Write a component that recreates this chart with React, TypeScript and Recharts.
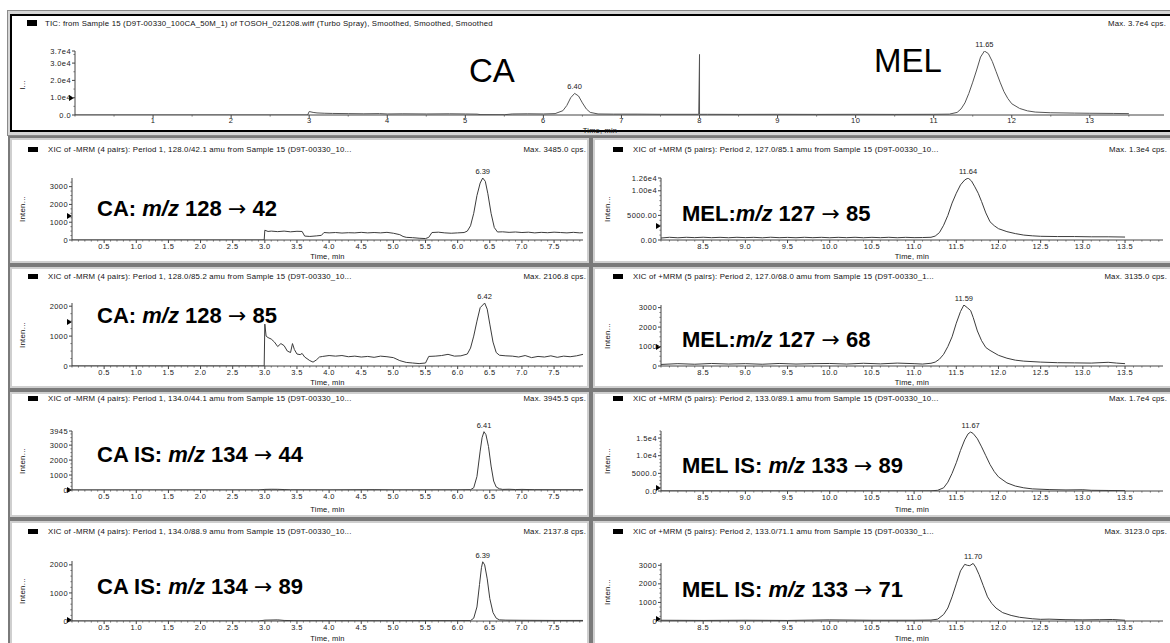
import React from 'react';
import { LineChart, Line, XAxis, YAxis, ReferenceDot } from 'recharts';

const FONT = '"Liberation Sans", Arial, Helvetica, sans-serif';

// ---------- DATA (time in min, intensity in cps) ----------
const ticTrace: [number, number][] = [
  [0, 0], [2.98, 0], [3.0, 2000], [3.05, 1500], [3.1, 1200], [3.2, 1000], [3.3, 900], [3.5, 800], [3.7, 700],
  [3.9, 800], [4.0, 600], [4.2, 700], [4.5, 600], [4.8, 700], [5.0, 600], [5.15, 500], [5.2, 200], [5.5, 150],
  [5.6, 600], [5.8, 700], [6.0, 600], [6.15, 800], [6.25, 2500], [6.3, 5500], [6.35, 10000], [6.4, 12500],
  [6.45, 11000], [6.5, 7000], [6.55, 3500], [6.6, 1500], [6.7, 600], [6.9, 500], [7.2, 500], [7.5, 400],
  [7.99, 400], [8.0, 35000], [8.0, 400], [8.1, 400], [8.5, 350], [9.0, 400], [9.5, 350], [10.0, 400],
  [10.5, 350], [11.0, 400], [11.2, 500], [11.3, 1500], [11.35, 3500], [11.4, 7000], [11.45, 12500],
  [11.5, 19000], [11.55, 26000], [11.6, 33500], [11.65, 37000], [11.7, 35500], [11.75, 31000], [11.8, 25000],
  [11.85, 19000], [11.9, 13500], [11.95, 9500], [12.0, 6500], [12.1, 3800], [12.2, 2400], [12.3, 1700],
  [12.5, 1300], [12.8, 1100], [13.0, 1000], [13.3, 900], [13.5, 800],
];

const ca128to42: [number, number][] = [
  [0, 0], [2.99, 0], [3.0, 550], [3.05, 480], [3.1, 500], [3.2, 470], [3.3, 500], [3.4, 460], [3.5, 490],
  [3.58, 480], [3.62, 220], [3.7, 200], [3.8, 230], [3.88, 260], [3.92, 420], [4.0, 400], [4.1, 420],
  [4.2, 390], [4.3, 410], [4.4, 400], [4.5, 430], [4.6, 400], [4.7, 420], [4.8, 400], [4.9, 430], [5.0, 380],
  [5.1, 300], [5.15, 200], [5.2, 150], [5.3, 130], [5.4, 100], [5.5, 80], [5.55, 150], [5.6, 420], [5.7, 440],
  [5.8, 400], [5.9, 380], [6.0, 400], [6.1, 420], [6.15, 500], [6.2, 800], [6.25, 1500], [6.3, 2500],
  [6.35, 3200], [6.39, 3485], [6.43, 3300], [6.47, 2600], [6.52, 1500], [6.57, 700], [6.62, 450], [6.7, 460],
  [6.8, 430], [6.9, 450], [7.0, 420], [7.1, 440], [7.2, 400], [7.3, 430], [7.4, 410], [7.5, 440], [7.6, 420],
  [7.7, 400], [7.8, 430], [7.9, 400], [7.95, 410],
];

const ca128to85: [number, number][] = [
  [0, 0], [2.99, 0], [3.0, 1400], [3.02, 1000], [3.05, 950], [3.1, 900], [3.15, 800], [3.2, 650], [3.25, 750],
  [3.3, 680], [3.35, 500], [3.4, 450], [3.43, 750], [3.46, 550], [3.5, 400], [3.55, 380], [3.58, 420],
  [3.62, 300], [3.7, 180], [3.75, 130], [3.8, 200], [3.85, 300], [3.9, 320], [4.0, 350], [4.1, 330],
  [4.2, 350], [4.3, 310], [4.4, 330], [4.5, 300], [4.6, 320], [4.7, 290], [4.8, 330], [4.9, 310], [5.0, 280],
  [5.1, 180], [5.2, 120], [5.3, 100], [5.4, 80], [5.5, 100], [5.55, 320], [5.65, 330], [5.75, 350],
  [5.85, 390], [5.95, 330], [6.05, 340], [6.15, 400], [6.2, 600], [6.25, 1000], [6.3, 1500], [6.35, 1950],
  [6.42, 2106], [6.46, 1900], [6.5, 1400], [6.55, 800], [6.6, 450], [6.65, 360], [6.75, 340], [6.85, 330],
  [6.95, 300], [7.05, 350], [7.15, 280], [7.25, 320], [7.35, 300], [7.45, 340], [7.55, 290], [7.65, 330],
  [7.75, 310], [7.85, 340], [7.95, 390],
];

const caIs134to44: [number, number][] = [
  [0, 0], [2.9, 0], [3.0, 40], [3.1, 50], [3.2, 45], [3.3, 30], [3.4, 10], [4.0, 5], [4.7, 20], [5.0, 5],
  [6.0, 10], [6.2, 20], [6.25, 150], [6.3, 900], [6.35, 2600], [6.38, 3500], [6.41, 3900], [6.44, 3700],
  [6.48, 2900], [6.52, 1600], [6.56, 600], [6.6, 200], [6.65, 80], [6.7, 40], [6.8, 50], [6.9, 30], [7.0, 40],
  [7.2, 20], [7.5, 15], [7.95, 15],
];

const caIs134to89: [number, number][] = [
  [0, 0], [2.9, 0], [3.0, 30], [3.2, 40], [3.3, 20], [3.5, 10], [4.0, 10], [5.0, 10], [6.2, 15], [6.25, 100],
  [6.3, 500], [6.34, 1300], [6.37, 1900], [6.39, 2110], [6.42, 2000], [6.46, 1500], [6.5, 800], [6.55, 300],
  [6.6, 100], [6.65, 40], [6.75, 30], [7.0, 25], [7.5, 20], [7.95, 20],
];

const mel127to85: [number, number][] = [
  [8.0, 400], [8.1, 550], [8.2, 450], [8.3, 550], [8.4, 480], [8.5, 560], [8.6, 470], [8.7, 540], [8.8, 460],
  [8.9, 550], [9.0, 480], [9.1, 540], [9.2, 450], [9.3, 560], [9.4, 470], [9.5, 530], [9.6, 460], [9.7, 550],
  [9.8, 470], [9.9, 540], [10.0, 460], [10.1, 540], [10.2, 470], [10.3, 550], [10.4, 460], [10.5, 540],
  [10.6, 470], [10.7, 550], [10.8, 460], [10.9, 540], [11.0, 480], [11.1, 500], [11.2, 550], [11.25, 800],
  [11.3, 1500], [11.35, 3000], [11.4, 5000], [11.45, 7500], [11.5, 9500], [11.55, 11200], [11.6, 12200],
  [11.64, 12600], [11.68, 12000], [11.72, 10800], [11.76, 9500], [11.8, 7800], [11.85, 5500], [11.9, 3700],
  [11.95, 2900], [12.0, 2300], [12.1, 1700], [12.2, 1300], [12.3, 1000], [12.4, 850], [12.5, 750],
  [12.7, 700], [12.9, 700], [13.1, 650], [13.3, 650], [13.5, 600],
];

const mel127to68: [number, number][] = [
  [8.0, 80], [8.2, 120], [8.4, 90], [8.6, 130], [8.8, 100], [9.0, 120], [9.2, 90], [9.4, 130], [9.6, 100],
  [9.8, 120], [10.0, 130], [10.2, 100], [10.4, 140], [10.6, 110], [10.8, 150], [11.0, 120], [11.1, 100],
  [11.2, 140], [11.25, 200], [11.3, 350], [11.35, 600], [11.4, 1000], [11.45, 1500], [11.5, 2200],
  [11.55, 2800], [11.59, 3135], [11.63, 3000], [11.67, 2850], [11.7, 2500], [11.75, 1800], [11.8, 1300],
  [11.85, 950], [11.9, 800], [12.0, 550], [12.1, 400], [12.2, 300], [12.3, 250], [12.5, 200], [12.7, 170],
  [12.9, 160], [13.1, 150], [13.3, 190], [13.4, 150], [13.5, 120],
];

const melIs133to89: [number, number][] = [
  [8.0, 30], [8.5, 20], [9.0, 25], [9.5, 20], [10.0, 25], [10.5, 20], [11.0, 30], [11.2, 40], [11.28, 200],
  [11.35, 900], [11.4, 2500], [11.45, 5000], [11.5, 8000], [11.55, 11500], [11.6, 14500], [11.64, 16200],
  [11.67, 16700], [11.7, 16300], [11.75, 14800], [11.8, 12500], [11.85, 10000], [11.9, 7500], [11.95, 5500],
  [12.0, 4000], [12.1, 2300], [12.2, 1400], [12.3, 900], [12.4, 600], [12.6, 400], [12.8, 300], [13.0, 350],
  [13.1, 200], [13.3, 150], [13.5, 100],
];

const melIs133to71: [number, number][] = [
  [8.0, 40], [8.5, 30], [9.0, 40], [9.5, 30], [10.0, 60], [10.5, 40], [11.0, 40], [11.2, 50], [11.28, 100],
  [11.35, 350], [11.4, 700], [11.45, 1300], [11.5, 2000], [11.55, 2700], [11.6, 3050], [11.63, 3000],
  [11.66, 2980], [11.7, 3100], [11.73, 2900], [11.77, 2500], [11.82, 1900], [11.87, 1300], [11.92, 950],
  [11.97, 700], [12.05, 450], [12.15, 300], [12.25, 200], [12.4, 120], [12.5, 90], [12.6, 100], [12.8, 70],
  [13.0, 60], [13.2, 70], [13.35, 80], [13.5, 40],
];

// ---------- TICKS ----------
const ticXTicks = [1, 2, 3, 4, 5, 6, 7, 8, 9, 10, 11, 12, 13];
const ticXLabels = ['1', '2', '3', '4', '5', '6', '7', '8', '9', '10', '11', '12', '13'];
const leftXTicks = [0.5, 1.0, 1.5, 2.0, 2.5, 3.0, 3.5, 4.0, 4.5, 5.0, 5.5, 6.0, 6.5, 7.0, 7.5];
const leftXLabels = ['0.5', '1.0', '1.5', '2.0', '2.5', '3.0', '3.5', '4.0', '4.5', '5.0', '5.5', '6.0', '6.5', '7.0', '7.5'];
const rightXTicks = [8.5, 9.0, 9.5, 10.0, 10.5, 11.0, 11.5, 12.0, 12.5, 13.0, 13.5];
const rightXLabels = ['8.5', '9.0', '9.5', '10.0', '10.5', '11.0', '11.5', '12.0', '12.5', '13.0', '13.5'];

const ticYTicks = [0, 10000, 20000, 30000, 37000];
const ticYLabels = ['0.0', '1.0e4', '2.0e4', '3.0e4', '3.7e4'];
const y3000Ticks = [0, 1000, 2000, 3000];
const y3000Labels = ['0', '1000', '2000', '3000'];
const y2000Ticks = [0, 1000, 2000];
const y2000Labels = ['0', '1000', '2000'];
const y3945Ticks = [0, 1000, 2000, 3000, 3945];
const y3945Labels = ['0', '1000', '2000', '3000', '3945'];
const yMel85Ticks = [0, 5000, 10000, 12600];
const yMel85Labels = ['0.00', '5000.00', '1.00e4', '1.26e4'];
const yMelIs89Ticks = [0, 5000, 10000, 15000];
const yMelIs89Labels = ['0.0', '5000.0', '1.0e4', '1.5e4'];

// ---------- RENDER HELPERS ----------
const near = (a: number, b: number) => Math.abs(a - b) < 1e-6;

const makeXTick = (majors: number[], labels: string[], dy: number) => (props: any) => {
  const { x, y, payload } = props;
  const i = majors.findIndex((m) => near(m, payload.value));
  if (i < 0) {
    return <line x1={x} x2={x} y1={y} y2={y + 1.5} stroke="#666" strokeWidth={1} />;
  }
  return (
    <g>
      <line x1={x} x2={x} y1={y} y2={y + 3} stroke="#444" strokeWidth={1} />
      <text x={x} y={y + dy} textAnchor="middle" fontSize={7.5} fontFamily={FONT} fill="#222" letterSpacing={0.4}>
        {labels[i]}
      </text>
    </g>
  );
};

const makeYTick = (majors: number[], labels: string[]) => (props: any) => {
  const { x, y, payload } = props;
  const i = majors.findIndex((m) => near(m, payload.value));
  if (i < 0) {
    return <line x1={x - 1.5} x2={x} y1={y} y2={y} stroke="#666" strokeWidth={1} />;
  }
  return (
    <g>
      <line x1={x - 3} x2={x} y1={y} y2={y} stroke="#444" strokeWidth={1} />
      <text x={x - 4} y={y} dy="0.35em" textAnchor="end" fontSize={7.5} fontFamily={FONT} fill="#222" letterSpacing={0.4}>
        {labels[i]}
      </text>
    </g>
  );
};

const stepTicks = (lo: number, hi: number, step: number) => {
  const out: number[] = [];
  for (let k = Math.ceil(lo / step - 1e-9); k * step <= hi + 1e-9; k++) out.push(Math.round(k * step * 1000) / 1000);
  return out;
};

type Peak = { t: number; v: number; label: string };
type Spec = {
  trace: [number, number][];
  rect: { x0: number; x1: number; y0: number; y1: number };
  xDomain: [number, number];
  xMajor: number[];
  xLabels: string[];
  xMinorStep: number;
  xLabelDy: number;
  yDomain: [number, number];
  yMajor: number[];
  yLabels: string[];
  yMinorStep: number;
  peaks: Peak[];
  stroke?: string;
};

function Trace({ s }: { s: Spec }) {
  const padL = 50, padT = 16, padR = 10, padB = 20;
  const { x0, x1, y0, y1 } = s.rect;
  const w = x1 - x0 + padL + padR;
  const h = y1 - y0 + padT + padB;
  const data = s.trace.map(([t, v]) => ({ t, v }));
  const xt = Array.from(new Set([...stepTicks(s.xDomain[0], s.xDomain[1], s.xMinorStep), ...s.xMajor])).sort((a, b) => a - b);
  const yt = Array.from(new Set([...stepTicks(s.yDomain[0], s.yDomain[1], s.yMinorStep), ...s.yMajor])).sort((a, b) => a - b);
  return (
    <div style={{ position: 'absolute', left: x0 - padL, top: y0 - padT }}>
      <LineChart width={w} height={h} data={data} margin={{ top: padT, right: padR, left: 0, bottom: 0 }}>
        <XAxis
          type="number"
          dataKey="t"
          domain={s.xDomain}
          allowDataOverflow
          ticks={xt}
          interval={0}
          tickSize={0}
          tickMargin={0}
          tickLine={false}
          axisLine={{ stroke: '#444', strokeWidth: 1 }}
          tick={makeXTick(s.xMajor, s.xLabels, s.xLabelDy)}
          height={padB}
        />
        <YAxis
          type="number"
          domain={s.yDomain}
          allowDataOverflow
          ticks={yt}
          interval={0}
          tickSize={0}
          tickMargin={0}
          tickLine={false}
          axisLine={{ stroke: '#444', strokeWidth: 1 }}
          tick={makeYTick(s.yMajor, s.yLabels)}
          width={padL}
        />
        <Line
          type="linear"
          dataKey="v"
          stroke={s.stroke || '#3c3c3c'}
          strokeWidth={1}
          dot={false}
          isAnimationActive={false}
        />
        {s.peaks.map((p) => (
          <ReferenceDot
            key={p.label}
            x={p.t}
            y={p.v}
            r={1}
            fill="none"
            stroke="none"
            ifOverflow="visible"
            label={{ value: p.label, position: 'top', offset: 3, fontSize: 7.5, fill: '#222', fontFamily: FONT }}
          />
        ))}
      </LineChart>
    </div>
  );
}

// ---------- PANEL SPECS ----------
const L = { x0: 72, x1: 583 };
const R = { x0: 661, x1: 1163 };

const specs: Spec[] = [
  {
    trace: ticTrace, rect: { x0: 75, x1: 1164, y0: 51, y1: 115 }, xDomain: [0, 13.95],
    xMajor: ticXTicks, xLabels: ticXLabels, xMinorStep: 0.5, xLabelDy: 8,
    yDomain: [0, 37000], yMajor: ticYTicks, yLabels: ticYLabels, yMinorStep: 5000,
    peaks: [{ t: 6.40, v: 12500, label: '6.40' }, { t: 11.65, v: 37000, label: '11.65' }],
    stroke: '#555',
  },
  {
    trace: ca128to42, rect: { ...L, y0: 178, y1: 240 }, xDomain: [0, 7.95],
    xMajor: leftXTicks, xLabels: leftXLabels, xMinorStep: 0.1, xLabelDy: 9,
    yDomain: [0, 3485], yMajor: y3000Ticks, yLabels: y3000Labels, yMinorStep: 250,
    peaks: [{ t: 6.39, v: 3485, label: '6.39' }],
  },
  {
    trace: ca128to85, rect: { ...L, y0: 303, y1: 366 }, xDomain: [0, 7.95],
    xMajor: leftXTicks, xLabels: leftXLabels, xMinorStep: 0.1, xLabelDy: 9,
    yDomain: [0, 2106.8], yMajor: y2000Ticks, yLabels: y2000Labels, yMinorStep: 250,
    peaks: [{ t: 6.42, v: 2106, label: '6.42' }],
  },
  {
    trace: caIs134to44, rect: { ...L, y0: 431, y1: 490 }, xDomain: [0, 7.95],
    xMajor: leftXTicks, xLabels: leftXLabels, xMinorStep: 0.1, xLabelDy: 9,
    yDomain: [0, 3945.5], yMajor: y3945Ticks, yLabels: y3945Labels, yMinorStep: 250,
    peaks: [{ t: 6.41, v: 3900, label: '6.41' }],
  },
  {
    trace: caIs134to89, rect: { ...L, y0: 561, y1: 621 }, xDomain: [0, 7.95],
    xMajor: leftXTicks, xLabels: leftXLabels, xMinorStep: 0.1, xLabelDy: 9,
    yDomain: [0, 2137.8], yMajor: y2000Ticks, yLabels: y2000Labels, yMinorStep: 200,
    peaks: [{ t: 6.39, v: 2110, label: '6.39' }],
  },
  {
    trace: mel127to85, rect: { ...R, y0: 178, y1: 240 }, xDomain: [8.0, 13.95],
    xMajor: rightXTicks, xLabels: rightXLabels, xMinorStep: 0.1, xLabelDy: 9,
    yDomain: [0, 12600], yMajor: yMel85Ticks, yLabels: yMel85Labels, yMinorStep: 1000,
    peaks: [{ t: 11.64, v: 12600, label: '11.64' }],
  },
  {
    trace: mel127to68, rect: { ...R, y0: 305, y1: 366 }, xDomain: [8.0, 13.95],
    xMajor: rightXTicks, xLabels: rightXLabels, xMinorStep: 0.1, xLabelDy: 9,
    yDomain: [0, 3135], yMajor: y3000Ticks, yLabels: y3000Labels, yMinorStep: 250,
    peaks: [{ t: 11.59, v: 3135, label: '11.59' }],
  },
  {
    trace: melIs133to89, rect: { ...R, y0: 431, y1: 491 }, xDomain: [8.0, 13.95],
    xMajor: rightXTicks, xLabels: rightXLabels, xMinorStep: 0.1, xLabelDy: 9,
    yDomain: [0, 17000], yMajor: yMelIs89Ticks, yLabels: yMelIs89Labels, yMinorStep: 1000,
    peaks: [{ t: 11.67, v: 16700, label: '11.67' }],
  },
  {
    trace: melIs133to71, rect: { ...R, y0: 563, y1: 621 }, xDomain: [8.0, 13.95],
    xMajor: rightXTicks, xLabels: rightXLabels, xMinorStep: 0.1, xLabelDy: 9,
    yDomain: [0, 3123], yMajor: y3000Ticks, yLabels: y3000Labels, yMinorStep: 250,
    peaks: [{ t: 11.7, v: 3100, label: '11.70' }],
  },
];

// ---------- TEXT ----------
const ticTitle = 'TIC: from Sample 15 (D9T-00330_100CA_50M_1) of TOSOH_021208.wiff (Turbo Spray), Smoothed, Smoothed, Smoothed';
const ticMax = 'Max. 3.7e4 cps.';
const panelTitles = [
  'XIC of -MRM (4 pairs): Period 1, 128.0/42.1 amu from Sample 15 (D9T-00330_10...',
  'XIC of -MRM (4 pairs): Period 1, 128.0/85.2 amu from Sample 15 (D9T-00330_10...',
  'XIC of -MRM (4 pairs): Period 1, 134.0/44.1 amu from Sample 15 (D9T-00330_10...',
  'XIC of -MRM (4 pairs): Period 1, 134.0/88.9 amu from Sample 15 (D9T-00330_10...',
  'XIC of +MRM (5 pairs): Period 2, 127.0/85.1 amu from Sample 15 (D9T-00330_10...',
  'XIC of +MRM (5 pairs): Period 2, 127.0/68.0 amu from Sample 15 (D9T-00330_1...',
  'XIC of +MRM (5 pairs): Period 2, 133.0/89.1 amu from Sample 15 (D9T-00330_10...',
  'XIC of +MRM (5 pairs): Period 2, 133.0/71.1 amu from Sample 15 (D9T-00330_1...',
];
const panelMax = [
  'Max. 3485.0 cps.', 'Max. 2106.8 cps.', 'Max. 3945.5 cps.', 'Max. 2137.8 cps.',
  'Max. 1.3e4 cps.', 'Max. 3135.0 cps.', 'Max. 1.7e4 cps.', 'Max. 3123.0 cps.',
];
const annotations = [
  { pre: 'CA: ', a: 128, b: 42 }, { pre: 'CA: ', a: 128, b: 85 },
  { pre: 'CA IS: ', a: 134, b: 44 }, { pre: 'CA IS: ', a: 134, b: 89 },
  { pre: 'MEL:', a: 127, b: 85 }, { pre: 'MEL:', a: 127, b: 68 },
  { pre: 'MEL IS: ', a: 133, b: 89 }, { pre: 'MEL IS: ', a: 133, b: 71 },
];

// ---------- LAYOUT ----------
const rowBoxes = [
  { top: 136, h: 129 }, { top: 265, h: 125 }, { top: 390, h: 129 }, { top: 519, h: 130 },
];
const colBoxes = [{ left: 8, w: 583 }, { left: 591, w: 585 }];
const titleY = [150, 277, 399, 532];
const annY = [209, 316, 455, 587, 214, 340, 466, 590];
const timeY = [257, 383, 510, 639];
const markerY = [216, 322, 490, 620, 226, 347, 488, 619];

const abs = (o: React.CSSProperties): React.CSSProperties => ({ position: 'absolute', ...o });
const small: React.CSSProperties = { fontFamily: FONT, fontSize: 7.8, color: '#111', whiteSpace: 'nowrap', lineHeight: '10px', letterSpacing: 0.2 };

function Marker({ x, y }: { x: number; y: number }) {
  return (
    <div style={abs({ left: x - 5, top: y - 3.5, width: 0, height: 0, borderTop: '3.5px solid transparent', borderBottom: '3.5px solid transparent', borderLeft: '5px solid #000' })} />
  );
}

export default function App() {
  return (
    <div style={abs({ left: 0, top: 0, width: 1170, height: 643, overflow: 'hidden', background: '#fff' })}>
      {/* outer frames */}
      <div style={abs({ left: 7, top: 10, width: 1170, height: 126, boxSizing: 'border-box', border: '1px solid #8a8a8a', background: '#d6d6d6' })} />
      <div style={abs({ left: 10, top: 14, width: 1170, height: 118, boxSizing: 'border-box', border: '2px solid #000', background: '#fff' })} />
      {rowBoxes.map((r, ri) =>
        colBoxes.map((c, ci) => (
          <div
            key={`f${ri}${ci}`}
            style={abs({
              left: c.left, top: r.top, width: c.w, height: r.h, boxSizing: 'border-box',
              border: '2px solid #7a7a7a', boxShadow: 'inset 0 0 0 2px #cfcfcf', background: '#fff',
            })}
          />
        ))
      )}

      {/* TIC header */}
      <div style={abs({ left: 27, top: 20, width: 10, height: 6, background: '#000' })} />
      <div style={abs({ ...small, left: 45, top: 19 })}>{ticTitle}</div>
      <div style={abs({ ...small, left: 990, top: 19, width: 176, textAlign: 'right' })}>{ticMax}</div>
      <div style={abs({ ...small, left: 18, top: 80, transform: 'rotate(-90deg)', fontSize: 8 })}>I...</div>
      <div style={abs({ ...small, left: 570, top: 126, width: 60, textAlign: 'center', fontSize: 7.5 })}>Time, min</div>
      <div style={abs({ left: 469, top: 51, fontFamily: FONT, fontSize: 33, lineHeight: '40px', color: '#000' })}>CA</div>
      <div style={abs({ left: 874, top: 41, fontFamily: FONT, fontSize: 33, lineHeight: '40px', color: '#000' })}>MEL</div>
      <Marker x={74} y={98} />

      {/* sub-panel headers & labels */}
      {panelTitles.map((t, i) => {
        const col = i < 4 ? 0 : 1;
        const row = i % 4;
        const baseX = col === 0 ? 0 : 585;
        const plot = col === 0 ? L : R;
        const sp = specs[i + 1].rect;
        const an = annotations[i];
        const maxRight = col === 0 ? 586 : 1167;
        return (
          <React.Fragment key={`p${i}`}>
            <div style={abs({ left: baseX + 28, top: titleY[row] - 3, width: 10, height: 5, background: '#000' })} />
            <div style={abs({ ...small, left: baseX + 48, top: titleY[row] - 5 })}>{t}</div>
            <div style={abs({ ...small, left: maxRight - 187, top: titleY[row] - 5, width: 187, textAlign: 'right' })}>{panelMax[i]}</div>
            <div style={abs({ ...small, left: baseX + 8, top: (sp.y0 + sp.y1) / 2 - 5, width: 30, textAlign: 'center', transform: 'rotate(-90deg)', fontSize: 8 })}>Inten...</div>
            <div style={abs({ ...small, left: (plot.x0 + plot.x1) / 2 - 30, top: timeY[row] - 5, width: 60, textAlign: 'center', fontSize: 7.5 })}>Time, min</div>
            <div style={abs({ left: baseX + 97, top: annY[i] - 13, fontFamily: FONT, fontSize: 22, fontWeight: 700, lineHeight: '26px', color: '#000', whiteSpace: 'nowrap' })}>
              {an.pre}
              <i>m/z</i> {an.a}{' '}
              <span style={{ fontFamily: '"DejaVu Sans", sans-serif', fontWeight: 400, fontSize: 22 }}>→</span> {an.b}
            </div>
            <Marker x={plot.x0} y={markerY[i]} />
          </React.Fragment>
        );
      })}

      {specs.map((s, i) => (
        <Trace key={`t${i}`} s={s} />
      ))}
    </div>
  );
}
